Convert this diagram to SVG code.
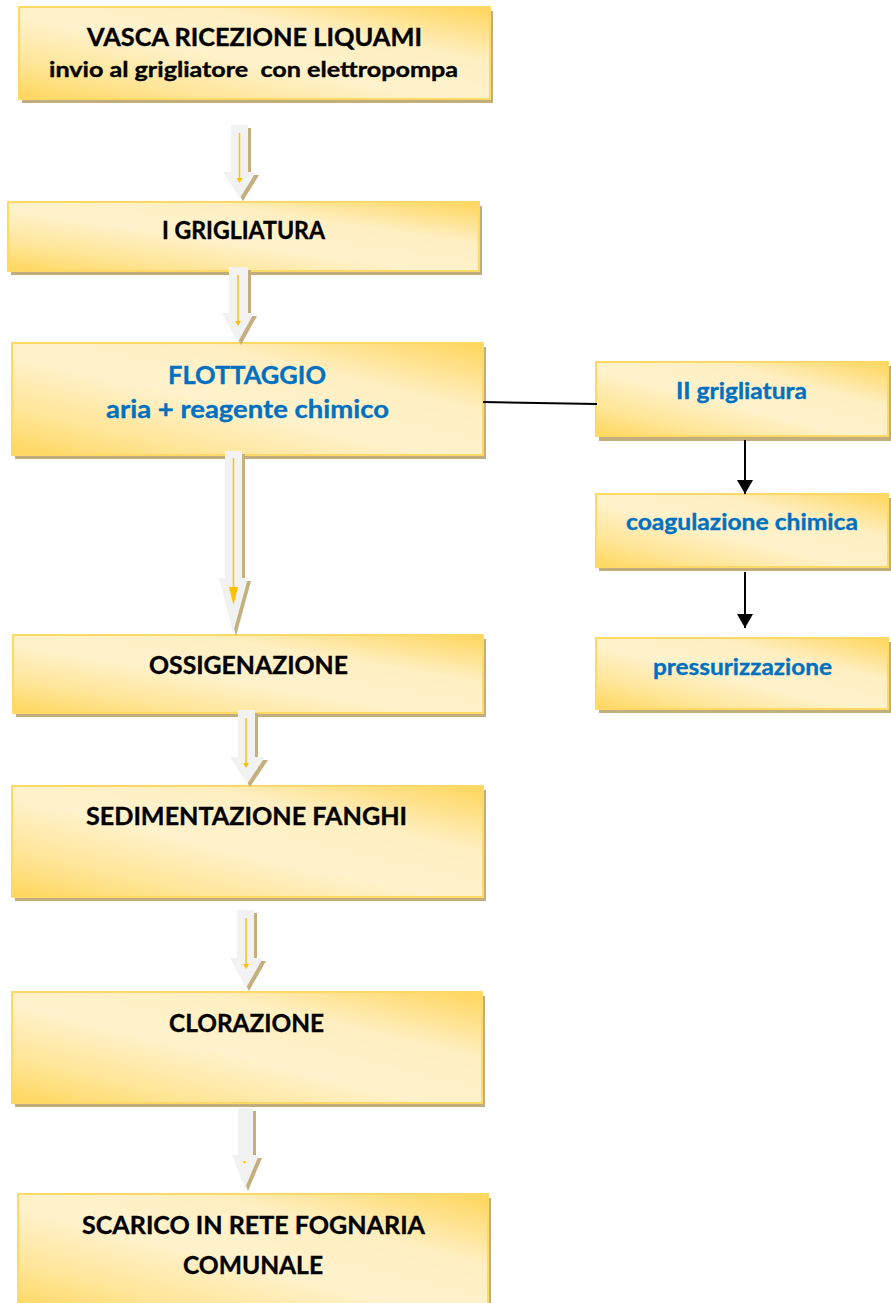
<svg xmlns="http://www.w3.org/2000/svg" width="891" height="1303" viewBox="0 0 891 1303">
<defs>
<linearGradient id="g" x1="0" y1="1" x2="1" y2="0">
<stop offset="0" stop-color="#ffd65c"/>
<stop offset="0.2" stop-color="#ffe596"/>
<stop offset="0.45" stop-color="#fff2cc"/>
<stop offset="0.7" stop-color="#ffefc2"/>
<stop offset="1" stop-color="#ffd55a"/>
</linearGradient>
<marker id="ah" markerWidth="14" markerHeight="16" refX="14" refY="8" orient="auto" markerUnits="userSpaceOnUse" viewBox="0 0 14 16">
<path d="M0 0 L14 8 L0 16 Z" fill="#000"/>
</marker>
<style>
.box{fill:url(#g);stroke:#ffd966;stroke-width:2}
.sh{fill:#c2ae7c}
.t{font-family:Lato,"Liberation Sans",sans-serif;font-weight:bold;text-anchor:middle;fill:#000;stroke:#000;stroke-width:0.35}
.b{fill:#0070c0;stroke:#0070c0}
.ba{fill:#f2f2f2}
.bs{fill:#c4b07e}
.yl{stroke:#ffc000;stroke-width:1.5;fill:none}
.yh{fill:#ffc000}
.k{stroke:#000;stroke-width:2;fill:none}
</style>
</defs>

<g id="n1">
<rect class="sh" x="22" y="11" width="471" height="92"/>
<rect class="box" x="19" y="7" width="471" height="92"/>
<text class="t" x="254.5" y="46" font-size="24" textLength="335" lengthAdjust="spacingAndGlyphs">VASCA RICEZIONE LIQUAMI</text>
<text class="t" x="253.5" y="77" font-size="21" textLength="409" lengthAdjust="spacingAndGlyphs" xml:space="preserve">invio al grigliatore  con elettropompa</text>
</g>
<g id="n2">
<rect class="sh" x="11" y="206" width="471" height="69"/>
<rect class="box" x="8" y="202" width="471" height="69"/>
<text class="t" x="243.5" y="239" font-size="24" textLength="163" lengthAdjust="spacingAndGlyphs">I GRIGLIATURA</text>
</g>
<g id="n3">
<rect class="sh" x="15" y="347" width="471" height="112"/>
<rect class="box" x="12" y="343" width="471" height="112"/>
<text class="t b" x="247" y="384" font-size="24" textLength="158" lengthAdjust="spacingAndGlyphs">FLOTTAGGIO</text>
<text class="t b" x="247.5" y="418" font-size="24" textLength="283" lengthAdjust="spacingAndGlyphs">aria + reagente chimico</text>
</g>
<g id="n4">
<rect class="sh" x="16" y="639" width="470" height="78"/>
<rect class="box" x="13" y="635" width="470" height="78"/>
<text class="t" x="248.5" y="674" font-size="24" textLength="199" lengthAdjust="spacingAndGlyphs">OSSIGENAZIONE</text>
</g>
<g id="n5">
<rect class="sh" x="15" y="790" width="471" height="111"/>
<rect class="box" x="12" y="786" width="471" height="111"/>
<text class="t" x="246.5" y="825" font-size="24" textLength="321" lengthAdjust="spacingAndGlyphs">SEDIMENTAZIONE FANGHI</text>
</g>
<g id="n6">
<rect class="sh" x="15" y="996" width="470" height="111"/>
<rect class="box" x="12" y="992" width="470" height="111"/>
<text class="t" x="246.5" y="1032" font-size="24" textLength="155" lengthAdjust="spacingAndGlyphs">CLORAZIONE</text>
</g>
<g id="n7">
<rect class="sh" x="21" y="1198" width="470" height="120"/>
<rect class="box" x="18" y="1194" width="470" height="120"/>
<text class="t" x="253.5" y="1234" font-size="24" textLength="343" lengthAdjust="spacingAndGlyphs">SCARICO IN RETE FOGNARIA</text>
<text class="t" x="253" y="1274" font-size="24" textLength="140" lengthAdjust="spacingAndGlyphs">COMUNALE</text>
</g>
<g id="n8">
<rect class="sh" x="599" y="366" width="292" height="75"/>
<rect class="box" x="596" y="362" width="292" height="74"/>
<text class="t b" x="741.5" y="399" font-size="22" textLength="131" lengthAdjust="spacingAndGlyphs">II grigliatura</text>
</g>
<g id="n9">
<rect class="sh" x="599" y="498" width="292" height="73"/>
<rect class="box" x="596" y="494" width="292" height="73"/>
<text class="t b" x="742" y="530" font-size="22" textLength="232" lengthAdjust="spacingAndGlyphs">coagulazione chimica</text>
</g>
<g id="n10">
<rect class="sh" x="599" y="642" width="292" height="71"/>
<rect class="box" x="596" y="638" width="292" height="71"/>
<text class="t b" x="742.5" y="675" font-size="22" textLength="179" lengthAdjust="spacingAndGlyphs">pressurizzazione</text>
</g>

<g id="connectors">
<path class="bs" d="M234 128 H251 V175 H259 L243 201 L226 175 H234 Z"/>
<path class="ba" d="M231 125 H248 V172 H256 L240 198 L223 172 H231 Z"/>
<path class="yl" d="M239.5 133 V180"/>
<path class="yh" d="M236.5 178 H242.5 L239.5 183 Z"/>

<path class="bs" d="M232 270 H251 V316 H257 L241 345 L225 316 H232 Z"/>
<path class="ba" d="M229 267 H248 V313 H254 L238 342 L222 313 H229 Z"/>
<path class="yl" d="M238 275 V323"/>
<path class="yh" d="M235 321 H241 L238 326 Z"/>

<path class="bs" d="M228 454 H245 V581 H251 L236 636 L222 581 H228 Z"/>
<path class="ba" d="M225 451 H242 V578 H248 L233 633 L219 578 H225 Z"/>
<path class="yl" d="M233.5 458 V590"/>
<path class="yh" d="M229 587 H238 L233.5 605 Z"/>

<path class="bs" d="M241 713 H258 V760 H268 L250 787 L233 760 H241 Z"/>
<path class="ba" d="M238 710 H255 V757 H265 L247 784 L230 757 H238 Z"/>
<path class="yl" d="M246 718 V765"/>
<path class="yh" d="M243 763 H249 L246 768 Z"/>

<path class="bs" d="M240 913 H257 V961 H266 L249 991 L233 961 H240 Z"/>
<path class="ba" d="M237 910 H254 V958 H263 L246 988 L230 958 H237 Z"/>
<path class="yl" d="M246 918 V966"/>
<path class="yh" d="M243 964 H249 L246 969 Z"/>

<path class="bs" d="M241 1111 H256 V1158 H262 L248 1191 L235 1158 H241 Z"/>
<path class="ba" d="M238 1108 H253 V1155 H259 L245 1188 L232 1155 H238 Z"/>
<path class="yh" d="M243 1161 H246 L244.5 1164 Z"/>

<path class="k" d="M483 402 L597 404" stroke-width="1.8"/>
<path class="k" d="M745 440 V494" marker-end="url(#ah)"/>
<path class="k" d="M745 572 V628" marker-end="url(#ah)"/>
</g>
</svg>
